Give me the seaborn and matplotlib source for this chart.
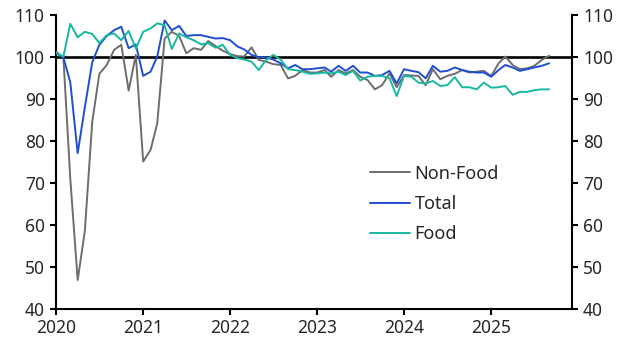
import matplotlib
matplotlib.use("Agg")
import matplotlib.pyplot as plt
import matplotlib.dates as mdates
import seaborn as sns
import pandas as pd
import numpy as np

# Monthly index, Jan 2020 - Sep 2025
start_month = "2020-01-01"
n_months = 69

non_food = [101.3, 99.9, 71.0, 46.9, 58.5, 84.5, 96.0, 98.1, 101.7, 102.9, 92.0, 100.5,
            75.1, 77.9, 84.2, 104.4, 106.0, 105.0, 100.9, 102.1, 101.7, 103.8, 102.6, 101.5,
            100.7, 100.2, 100.1, 102.3, 99.3, 98.9, 98.3, 98.1, 94.9, 95.5, 96.9, 96.3,
            96.3, 96.9, 95.3, 96.9, 96.1, 96.9, 95.3, 94.5, 92.3, 93.3, 96.1, 92.8,
            95.7, 95.6, 95.5, 93.3, 97.1, 94.7, 95.5, 96.0, 96.9, 96.3, 96.5, 96.7,
            95.5, 98.5, 100.1, 98.1, 97.1, 97.3, 97.9, 99.3, 100.3]

total = [100.9, 99.9, 94.0, 77.1, 88.0, 98.7, 102.9, 105.0, 106.4, 107.2, 102.1, 103.0,
         95.5, 96.5, 100.1, 108.7, 106.4, 107.4, 105.0, 105.2, 105.2, 104.8, 104.4, 104.5,
         104.0, 102.5, 101.8, 100.5, 99.9, 99.9, 99.4, 98.5, 97.3, 98.1, 97.1, 97.1,
         97.3, 97.5, 96.5, 97.9, 96.7, 97.9, 96.3, 96.3, 95.5, 95.7, 96.7, 93.7,
         97.1, 96.7, 96.4, 94.9, 97.9, 96.5, 96.7, 97.5, 96.9, 96.5, 96.3, 96.3,
         95.3, 96.9, 98.1, 97.5, 96.7, 97.1, 97.5, 97.9, 98.5]

food = [101.0, 100.1, 107.9, 104.7, 106.0, 105.5, 103.3, 105.2, 105.6, 104.0, 106.2, 102.0,
        106.0, 106.8, 108.0, 107.6, 101.9, 105.6, 104.7, 104.0, 103.0, 103.3, 102.2, 102.9,
        100.5, 99.7, 99.4, 98.9, 96.9, 99.3, 100.5, 99.4, 97.1, 96.9, 96.5, 96.0,
        96.1, 96.3, 96.1, 96.5, 95.7, 96.7, 94.4, 95.3, 95.5, 95.5, 94.9, 90.7,
        95.5, 95.3, 93.9, 93.7, 94.3, 93.1, 93.3, 95.2, 92.8, 92.8, 92.3, 93.9,
        92.7, 92.8, 93.1, 91.0, 91.7, 91.7, 92.1, 92.3, 92.3]

series_names = ["Non-Food", "Total", "Food"]
colors = {"Non-Food": "#6d6d6d", "Total": "#1f4fd0", "Food": "#17b8a2"}
y_ticks = [40, 50, 60, 70, 80, 90, 100, 110]
x_tick_years = [2020, 2021, 2022, 2023, 2024, 2025]

dates = pd.date_range(start_month, periods=n_months, freq="MS")
df = pd.DataFrame({"date": np.tile(dates, 3),
                   "value": non_food + total + food,
                   "series": np.repeat(series_names, n_months)})

sns.set_theme(style="white")
plt.rcParams["font.family"] = ["Noto Sans", "DejaVu Sans"]

fig = plt.figure(figsize=(6.27, 3.52), dpi=100)
ax = fig.add_axes([56/627, 1-309/352, (572-56)/627, (309-15)/352])

ax.axhline(100, color="black", lw=1.9, zorder=1)
sns.lineplot(data=df, x="date", y="value", hue="series", hue_order=series_names,
             palette=colors, lw=1.4, ax=ax, zorder=3)

ax.set_ylim(40, 110)
ax.set_yticks(y_ticks)
ax.set_xlim(pd.Timestamp("2020-01-01"), pd.Timestamp("2025-12-06"))
ax.set_xticks([pd.Timestamp(f"{y}-01-01") for y in x_tick_years])
ax.xaxis.set_major_formatter(mdates.DateFormatter("%Y"))
ax.set_xlabel("")
ax.set_ylabel("")

for s in ["left", "right", "bottom"]:
    ax.spines[s].set_visible(True)
    ax.spines[s].set_color("black")
    ax.spines[s].set_linewidth(1.5)
ax.spines["top"].set_visible(False)

ax.tick_params(axis="y", which="both", left=True, right=True, labelleft=True, labelright=True,
               direction="out", length=4, width=1.5, color="black", labelsize=12.5, pad=4)
ax.tick_params(axis="x", bottom=True, direction="out", length=4, width=1.5, color="black",
               labelsize=12.5, pad=3)

leg = ax.legend(frameon=False, loc="upper left", bbox_to_anchor=(0.595, 0.515),
                fontsize=13, handlelength=2.2, handletextpad=0.25, labelspacing=0.68,
                borderaxespad=0)
for line in leg.get_lines():
    line.set_linewidth(1.4)

fig.savefig("out.png", dpi=100)
